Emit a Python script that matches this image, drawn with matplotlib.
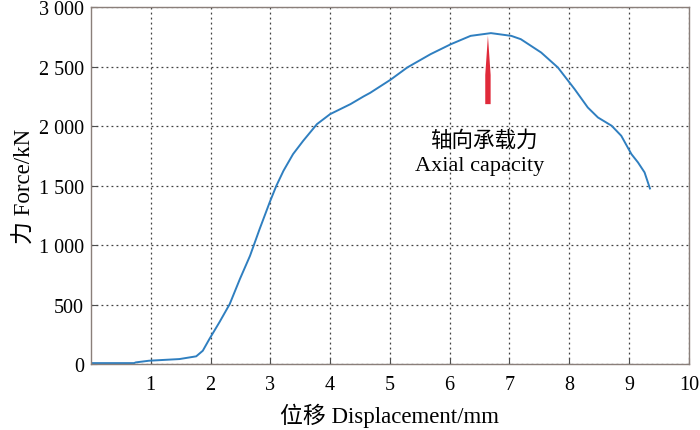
import matplotlib
matplotlib.use("Agg")
import matplotlib.pyplot as plt

plt.rcParams['font.family'] = ['Liberation Serif', 'Noto Sans CJK SC', 'DejaVu Sans']

# displacement (mm) / force (kN)
disp = [0.0, 0.72, 0.75, 0.97, 1.48, 1.76, 1.87, 1.98, 2.15, 2.32, 2.49,
        2.66, 2.82, 2.99, 3.10, 3.22, 3.38, 3.55, 3.78, 4.0, 4.34, 4.56,
        4.67, 5.01, 5.29, 5.68, 6.02, 6.35, 6.69, 7.03, 7.19, 7.36, 7.53,
        7.81, 8.09, 8.31, 8.48, 8.71, 8.87, 9.04, 9.15, 9.26, 9.35]
force = [8, 8, 14, 28, 42, 65, 112, 210, 353, 504, 714,
         910, 1134, 1361, 1498, 1625, 1765, 1877, 2017, 2101, 2185, 2250,
         2280, 2390, 2493, 2605, 2689, 2759, 2782, 2759, 2731, 2675, 2619,
         2493, 2311, 2157, 2073, 2003, 1919, 1765, 1695, 1611, 1476]

x_ticks = [1, 2, 3, 4, 5, 6, 7, 8, 9, 10]
y_ticks = [0, 500, 1000, 1500, 2000, 2500, 3000]
y_labels = ['0', '500', '1 000', '1 500', '2 000', '2 500', '3 000']

peak_x = 6.64
arrow_from = 2185
arrow_to = 2760

fig = plt.figure(figsize=(7, 4.31), dpi=100)
ax = fig.add_axes([0.13, 0.153, 0.854, 0.828])

ax.plot(disp, force, color='#2f7fc0', lw=1.4)

ax.set_xlim(0, 10)
ax.set_ylim(0, 3000)
ax.set_xticks(x_ticks)
ax.set_yticks(y_ticks)
ax.set_yticklabels(y_labels)
ax.tick_params(direction='in', labelsize=14.5, length=4, color='0.3', pad=8)
ax.tick_params(axis='y', pad=5)
ax.grid(True, color='0.25', linestyle=(0, (1.5, 2.5)), lw=0.9)

for s in ax.spines.values():
    s.set_color('#8a7f7a')
    s.set_linewidth(1.0)

ax.set_xlabel('位移 Displacement/mm', fontsize=16.5, labelpad=6)
ax.set_ylabel('力 Force/kN', fontsize=16.5, labelpad=2)

# red arrow pointing at the peak
ax.arrow(peak_x, arrow_from, 0, arrow_to - arrow_from, width=0.09,
         head_width=0.09, head_length=330, length_includes_head=True,
         color='#e02a3a', lw=0, zorder=3)
ax.text(6.57, 1880, '轴向承载力', ha='center', va='center', fontsize=15.5)
ax.text(6.5, 1665, 'Axial capacity', ha='center', va='center', fontsize=16)

fig.savefig('out.png', dpi=100)
